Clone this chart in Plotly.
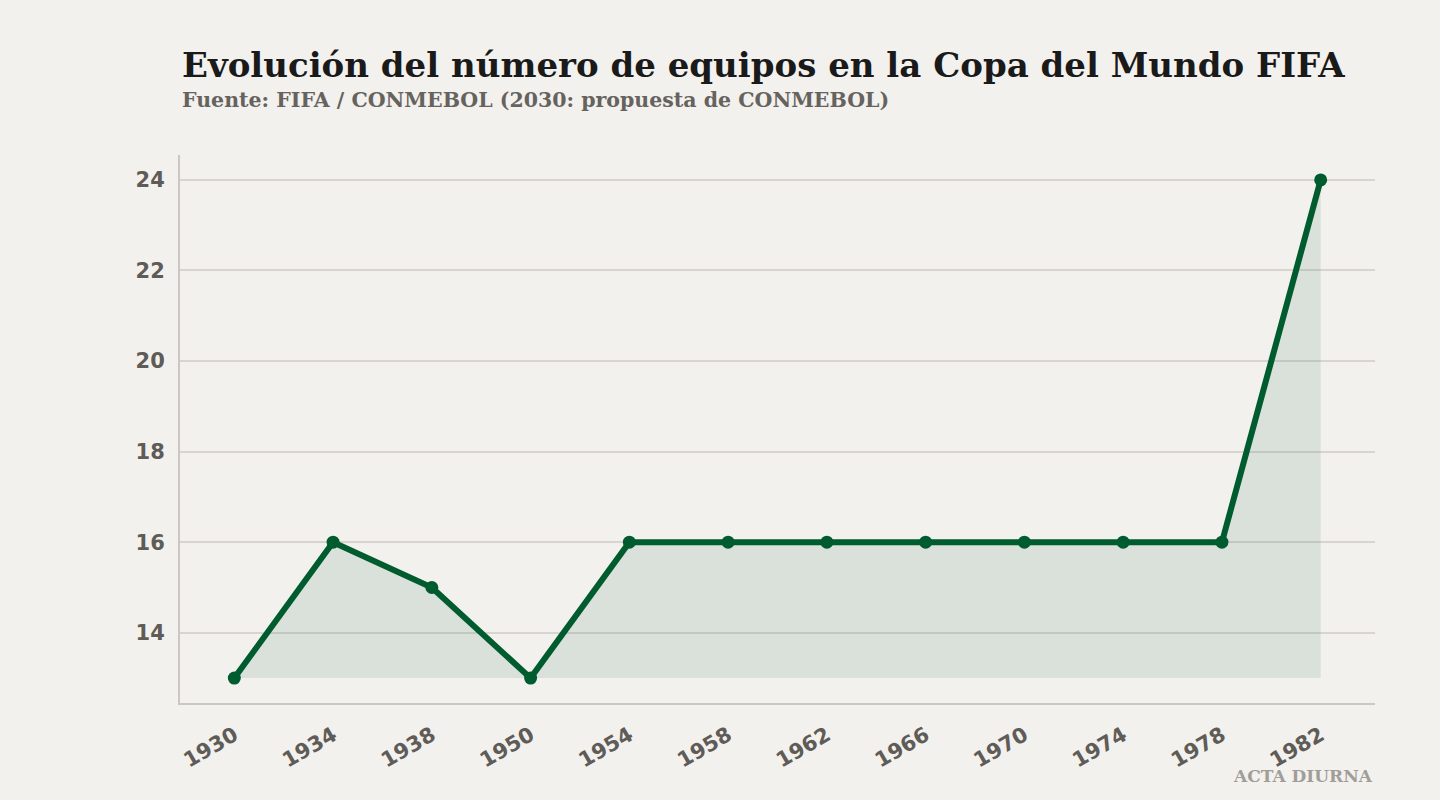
import plotly.graph_objects as go

years = ["1930", "1934", "1938", "1950", "1954", "1958", "1962", "1966", "1970", "1974", "1978", "1982"]
teams = [13, 16, 15, 13, 16, 16, 16, 16, 16, 16, 16, 24]
y_ticks = [14, 16, 18, 20, 22, 24]

title_text = "Evolución del número de equipos en la Copa del Mundo FIFA"
subtitle_text = "Fuente: FIFA / CONMEBOL (2030: propuesta de CONMEBOL)"
credit_text = "ACTA DIURNA"

green = "#005c2e"
base = min(teams)

fig = go.Figure()
fig.add_trace(go.Scatter(
    x=years, y=[base] * len(years), mode="lines",
    line=dict(width=0, color="rgba(0,0,0,0)"), hoverinfo="skip", showlegend=False,
))
fig.add_trace(go.Scatter(
    x=years, y=teams, mode="lines+markers",
    line=dict(color=green, width=6),
    marker=dict(color=green, size=13),
    fill="tonexty", fillcolor="rgba(0,92,46,0.10)",
    showlegend=False,
))

tick_font = dict(family="DejaVu Sans", size=21, color="#5f5b57", weight="bold")

fig.update_layout(
    width=1440, height=800,
    paper_bgcolor="#f2f1ee", plot_bgcolor="#f2f1ee",
    margin=dict(l=180, r=65, t=155, b=97),
    xaxis=dict(
        type="category", range=[-0.55, 11.55],
        showgrid=False, showline=True, linecolor="#cbc8c2", linewidth=2,
        ticks="", tickangle=-30, ticklabelstandoff=10,
        tickfont=tick_font,
        fixedrange=True,
    ),
    yaxis=dict(
        range=[12.45, 24.55], tickvals=y_ticks,
        showgrid=True, gridcolor="#d8d5d0", gridwidth=2,
        showline=True, linecolor="#cbc8c2", linewidth=2, zeroline=False,
        ticks="", ticklabelstandoff=9,
        tickfont=tick_font,
        fixedrange=True,
    ),
    annotations=[
        dict(text=title_text, xref="paper", yref="paper", x=0.0, y=1.0,
             xanchor="left", yanchor="bottom", yshift=68, showarrow=False,
             font=dict(family="DejaVu Serif", size=34, color="#1a1a1a", weight="bold")),
        dict(text=subtitle_text, xref="paper", yref="paper", x=0.0, y=1.0,
             xanchor="left", yanchor="bottom", yshift=41, showarrow=False,
             font=dict(family="DejaVu Serif", size=20.5, color="#66625d", weight="bold")),
        dict(text=credit_text, xref="paper", yref="paper", x=1.0, y=0.0,
             xanchor="right", yanchor="top", yshift=-61, showarrow=False,
             font=dict(family="DejaVu Serif", size=17, color="#a19d98", weight="bold")),
    ],
)

fig.write_html("out.html")
